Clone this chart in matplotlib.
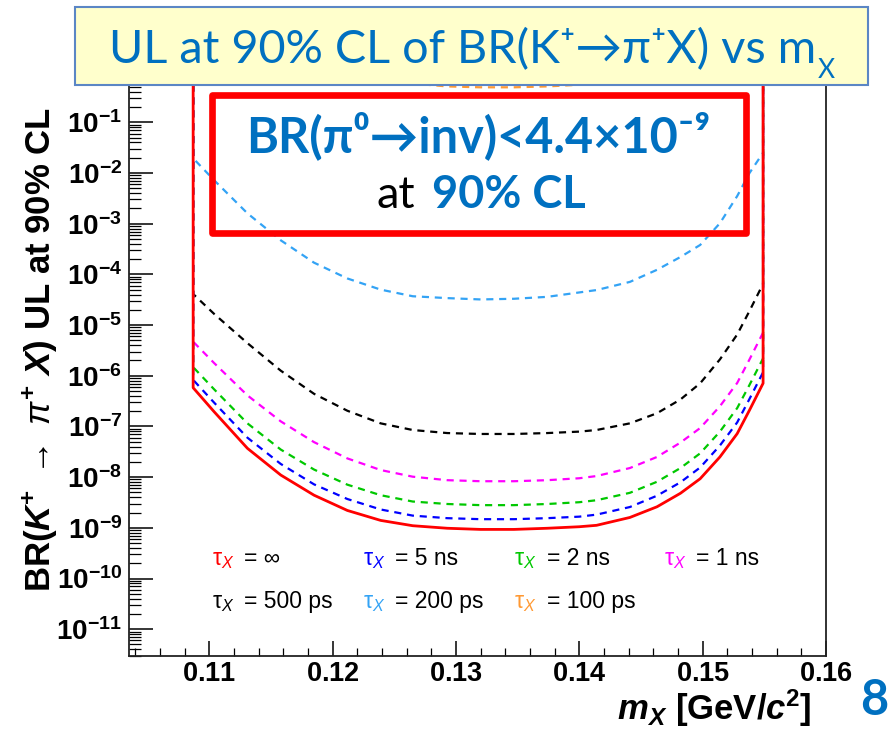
import matplotlib
matplotlib.use("Agg")
import matplotlib.pyplot as plt
from matplotlib.patches import Rectangle
from matplotlib.ticker import MultipleLocator, FixedLocator, LogLocator, FuncFormatter, NullFormatter
import numpy as np

W, H = 894, 733

# m_X scan points [GeV/c^2]
m_x = [0.1087, 0.1104, 0.1131, 0.1158, 0.1185, 0.1212, 0.1239, 0.1265,
       0.1293, 0.1320, 0.1347, 0.1374, 0.1400, 0.1414, 0.1441, 0.1463,
       0.1482, 0.1498, 0.1514, 0.1528, 0.1538, 0.1549]

# 90% CL upper limits on BR(K+ -> pi+ X), one list per X lifetime
ul_inf = [5.8e-7, 1.95e-7, 3.7e-8, 1.1e-8, 4.4e-9, 2.2e-9, 1.4e-9, 1.1e-9,
          9.8e-10, 9.3e-10, 9.3e-10, 9.8e-10, 1.05e-9, 1.12e-9, 1.6e-9, 2.6e-9,
          4.8e-9, 9.3e-9, 2.5e-8, 7.2e-8, 2.1e-7, 7.1e-7]
ul_5ns = [8.3e-7, 2.95e-7, 6.0e-8, 1.82e-8, 7.2e-9, 3.7e-9, 2.3e-9, 1.74e-9,
          1.55e-9, 1.48e-9, 1.48e-9, 1.55e-9, 1.66e-9, 1.82e-9, 2.57e-9, 4.3e-9,
          7.9e-9, 1.55e-8, 4.2e-8, 1.2e-7, 3.5e-7, 1.17e-6]
ul_2ns = [1.48e-6, 5.4e-7, 1.15e-7, 3.5e-8, 1.41e-8, 7.1e-9, 4.4e-9, 3.3e-9,
          2.95e-9, 2.8e-9, 2.8e-9, 2.95e-9, 3.2e-9, 3.5e-9, 4.9e-9, 8.1e-9,
          1.51e-8, 2.95e-8, 7.9e-8, 2.3e-7, 6.6e-7, 2.2e-6]
ul_1ns = [4.7e-6, 1.78e-6, 4.1e-7, 1.26e-7, 4.9e-8, 2.34e-8, 1.38e-8, 1.02e-8,
          8.7e-9, 8.3e-9, 8.3e-9, 8.7e-9, 9.5e-9, 1.05e-8, 1.51e-8, 2.5e-8,
          4.8e-8, 9.3e-8, 2.5e-7, 7.2e-7, 2.1e-6, 7.1e-6]
ul_500ps = [4.1e-5, 1.66e-5, 4.4e-6, 1.26e-6, 4.4e-7, 2.04e-7, 1.15e-7, 8.5e-8,
            7.4e-8, 7.1e-8, 7.1e-8, 7.4e-8, 7.9e-8, 8.5e-8, 1.15e-7, 1.82e-7,
            3.4e-7, 7.1e-7, 2.1e-6, 6.5e-6, 1.9e-5, 6.5e-5]
ul_200ps = [1.95e-2, 7.2e-3, 1.6e-3, 4.7e-4, 1.7e-4, 8.3e-5, 5.0e-5, 3.7e-5,
            3.4e-5, 3.2e-5, 3.3e-5, 3.6e-5, 4.4e-5, 4.9e-5, 7.1e-5, 1.23e-4,
            2.2e-4, 3.8e-4, 1.02e-3, 3.5e-3, 1.0e-2, 2.5e-2]
ul_100ps = [300.0, 100.0, 19.5, 5.8, 2.3, 1.17, 0.74, 0.58,
            0.51, 0.49, 0.49, 0.51, 0.55, 0.59, 0.83, 1.35,
            2.5, 4.9, 13.0, 38.0, 110.0, 370.0]

series = [ul_inf, ul_5ns, ul_2ns, ul_1ns, ul_500ps, ul_200ps, ul_100ps]
colors = ["#ff0000", "#0000ff", "#00c800", "#ff00ff", "#000000", "#33a3f5", "#ff9933"]
legend_text = ["= \u221e", "= 5 ns", "= 2 ns", "= 1 ns", "= 500 ps", "= 200 ps", "= 100 ps"]

x_ticks = [0.11, 0.12, 0.13, 0.14, 0.15, 0.16]
y_decades = list(range(-11, 0))

BLUE = "#0070c0"

plt.rcParams["font.family"] = ["Liberation Sans", "DejaVu Sans"]
plt.rcParams["mathtext.fontset"] = "custom"
plt.rcParams["mathtext.rm"] = "Liberation Sans"
plt.rcParams["mathtext.it"] = "Liberation Sans:italic"
plt.rcParams["mathtext.bf"] = "Liberation Sans:bold"
plt.rcParams["mathtext.bfit"] = "Liberation Sans:italic:bold"
plt.rcParams["mathtext.sf"] = "Liberation Sans"


def fx(x):
    return x / W


def fy(y):
    return 1 - y / H


fig = plt.figure(figsize=(W / 100, H / 100), dpi=100)
ax = fig.add_axes([fx(129), fy(655.7), (826 - 129) / W, (655.7 - 71.6) / H])

y_lo, y_hi = 3e-12, 1.0
ax.set_yscale("log")
ax.set_xlim(0.1035, 0.16)
ax.set_ylim(y_lo, y_hi)

# each exclusion contour closes with vertical edges up to the top of the frame
for i in range(len(series) - 1, -1, -1):
    xs = [m_x[0]] + m_x + [m_x[-1]]
    ys = [y_hi] + series[i] + [y_hi]
    if i == 0:
        ax.plot(xs, ys, color=colors[i], lw=2.0, zorder=5)
    else:
        ax.plot(xs, ys, color=colors[i], lw=1.6, ls=(0, (3.2, 2.6)), zorder=3)

# axes, ROOT-like ticks
ax.xaxis.set_major_locator(FixedLocator(x_ticks))
ax.xaxis.set_minor_locator(MultipleLocator(0.002))
ax.xaxis.set_major_formatter(FuncFormatter(lambda v, p: r"$\mathbf{%.2f}$" % v))
ax.yaxis.set_major_locator(FixedLocator([10.0 ** e for e in y_decades]))
ax.yaxis.set_minor_locator(LogLocator(base=10, subs=np.arange(2, 10), numticks=100))
ax.yaxis.set_minor_formatter(NullFormatter())
ax.yaxis.set_major_formatter(
    FuncFormatter(lambda v, p: r"$\mathbf{10^{%d}}$" % int(round(np.log10(v)))))

ax.tick_params(axis="y", which="major", direction="in", length=17, width=1.1,
               right=False, pad=5, labelsize=20)
ax.tick_params(axis="y", which="minor", direction="in", length=8.5, width=0.9, right=False)
ax.tick_params(axis="x", which="major", direction="in", length=11, width=1.1,
               top=False, pad=3.5, labelsize=19.5)
ax.tick_params(axis="x", which="minor", direction="in", length=5.5, width=0.9, top=False)
for sp in ax.spines.values():
    sp.set_linewidth(1.3)
    sp.set_color("#222222")

# lifetime legend written inside the frame
leg_cols = [0.119, 0.336, 0.553, 0.768]
leg_rows = [0.155, 0.082]
for i, txt in enumerate(legend_text):
    x0 = leg_cols[i % 4]
    y0 = leg_rows[i // 4]
    ax.text(x0, y0, r"$\mathrm{\tau}_{X}$", color=colors[i], fontsize=16.5,
            transform=ax.transAxes, va="baseline", ha="left")
    ax.text(x0 + 0.046, y0, txt, color="black", fontsize=16.5,
            transform=ax.transAxes, va="baseline", ha="left")

# axis titles
fig.text(fx(812), fy(720),
         r"$\mathbfit{m}_{\mathbfit{X}}$ [GeV/$\mathbfit{c}^{\mathbf{2}}$]",
         ha="right", va="baseline", fontsize=25, fontweight="bold")
fig.text(fx(40), fy(349),
         r"BR($\mathbfit{K}^{\mathbf{+}}$ $\rightarrow$ $\mathit{\pi}^{\mathbf{+}}$ $\mathbfit{X}$) UL at 90% CL",
         rotation=90, ha="center", va="center", fontsize=25, fontweight="bold")

# slide title banner
fig.patches.append(Rectangle((fx(75), fy(85)), (868 - 75) / W, (85 - 7) / H,
                             transform=fig.transFigure, facecolor="#ffffcc",
                             edgecolor="#5b86c5", lw=1.5, zorder=3))
slide_font = ["Lato", "DejaVu Sans"]
title = fig.text(fx(109), fy(63.5), "UL at 90% CL of BR(K\u207a\u2192\u03c0\u207aX) vs m",
                 ha="left", va="baseline", fontsize=33.7, color=BLUE,
                 family=slide_font, zorder=4)
fig.canvas.draw()
bb = title.get_window_extent()
fig.text(bb.x1 / W + 0.002, fy(78), "X", ha="left", va="baseline", fontsize=19,
         color=BLUE, family=slide_font, zorder=4)

# result box
fig.patches.append(Rectangle((fx(212), fy(233)), (746 - 212) / W, (233 - 95) / H,
                             transform=fig.transFigure, fill=False,
                             edgecolor="#ff0000", lw=4.8, joinstyle="round", zorder=3))
fig.text(fx(478.5), fy(151.7), "BR(\u03c0\u2070\u2192inv)<4.4\u00d710\u207b\u2079",
         ha="center", va="baseline", fontsize=35, fontweight="bold", color=BLUE,
         family=slide_font, zorder=4)
fig.text(fx(415), fy(208.3), "at", ha="right", va="baseline", fontsize=32.5,
         color="black", family=slide_font, zorder=4)
fig.text(fx(431.7), fy(208.3), "90% CL", ha="left", va="baseline", fontsize=32.5,
         fontweight="bold", color=BLUE, family=slide_font, zorder=4)

# page number
fig.text(fx(874), fy(715), "8", ha="center", va="baseline", fontsize=35,
         fontweight="bold", color=BLUE, family=slide_font)

fig.savefig("out.png", dpi=100)
